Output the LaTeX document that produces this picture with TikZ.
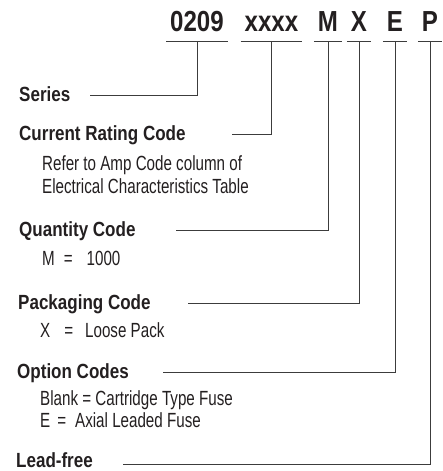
\documentclass[tikz,border=0pt]{standalone}
\usepackage{fontspec}
\setmainfont{Liberation Sans}
\newfontfamily\headfont[FakeStretch=0.83]{Liberation Sans}
\newfontfamily\bodyfont[FakeStretch=0.74]{Liberation Sans}
\usepackage{tikz}
\definecolor{ink}{HTML}{231F20}
\definecolor{rulegray}{HTML}{3C3C3C}
\tikzset{
  code/.style={anchor=base, text=ink, inner xsep=4pt, inner ysep=9.5pt, text depth=0pt,
    font=\headfont\bfseries\fontsize{29}{29}\selectfont},
  label/.style={anchor=base west, text=ink, inner sep=0pt,
    font=\headfont\bfseries\fontsize{20.5}{22}\selectfont},
  note/.style={anchor=base west, text=ink, inner sep=0pt,
    font=\bodyfont\fontsize{20.5}{22}\selectfont},
  rule/.style={draw=rulegray, line width=0.8pt}
}

\begin{document}
\begin{tikzpicture}[x=1pt, y=-1pt]
      \useasboundingbox (0,0) rectangle (443,471);
      % part number
      \node[code] (c0209) at (197,31.5) {0209};
      \node[code] (cxxxx) at (271.5,31.5) {xxxx};
      \node[code] (cM) at (328,31.5) {M};
      \node[code] (cX) at (359,31.5) {X};
      \node[code] (cE) at (395,31.5) {E};
      \node[code] (cP) at (430,31.5) {P};
      % labels
      \node[label] (series) at (19,101) {Series};
      \node[label] (rating) at (19,140.5) {Current Rating Code};
      \node[note] (rating1) at (42,170.5) {Refer to Amp Code column of};
      \node[note] (rating2) at (42,193) {Electrical Characteristics Table};
      \node[label] (qty) at (19,236.5) {Quantity Code};
      \node[note] (qty1) at (42,265) {M\hspace{9pt}=\hspace{14pt}1000};
      \node[label] (pack) at (18,309) {Packaging Code};
      \node[note] (pack1) at (40,337.5) {X\hspace{14pt}=\hspace{12pt}Loose Pack};
      \node[label] (opt) at (17,378) {Option Codes};
      \node[note] (opt1) at (40,405) {Blank = Cartridge Type Fuse};
      \node[note] (opt2) at (40,427) {E\hspace{7pt}=\hspace{9pt}Axial Leaded Fuse};
      \node[label] (lead) at (16,467.5) {Lead-free};
      % line ends
      \coordinate (series-end) at (90,95);
      \coordinate (rating-end) at (232,134);
      \coordinate (qty-end) at (176,230);
      \coordinate (pack-end) at (188,303);
      \coordinate (opt-end) at (163,372);
      \coordinate (lead-end) at (123,464);
      \foreach \c in {c0209,cxxxx,cM,cX,cE,cP}
        \draw[rule] (\c.south west) -- (\c.south east);
      \foreach \c/\e in {c0209/series-end, cxxxx/rating-end, cM/qty-end,
          cX/pack-end, cE/opt-end, cP/lead-end}
        \draw[rule] (\c.south) |- (\e);
    \end{tikzpicture}
\end{document}
